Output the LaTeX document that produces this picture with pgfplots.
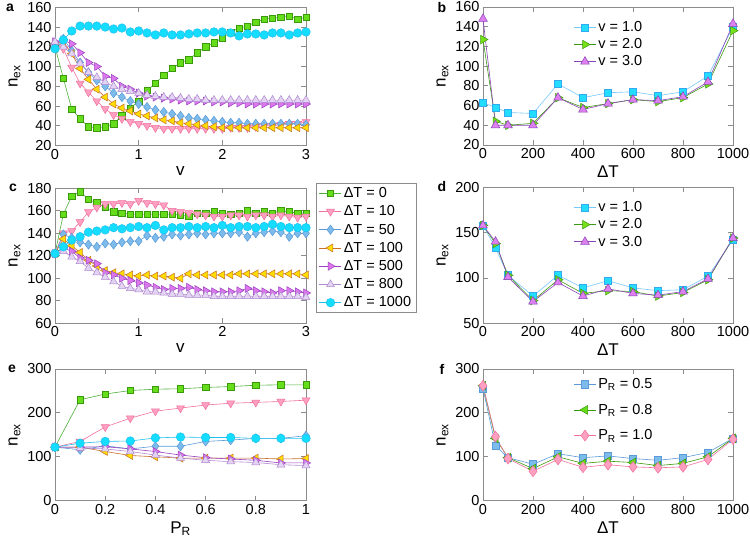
\documentclass[border=0pt]{standalone}
\usepackage{fontspec}
\setmainfont{Liberation Sans}
\usepackage{pgfplots}
\usepackage{pgfplotstable}
\pgfplotsset{compat=1.18}

\definecolor{gfill}{HTML}{66DD1A}\definecolor{gedge}{HTML}{3A9A0A}\definecolor{gline}{HTML}{4CAF3A}
\definecolor{pfill}{HTML}{FFA0C0}\definecolor{pedge}{HTML}{F070A0}
\definecolor{bfill}{HTML}{7DBBEB}\definecolor{bedge}{HTML}{5A9AD8}
\definecolor{yfill}{HTML}{FFDD00}\definecolor{yedge}{HTML}{C8702A}
\definecolor{mfill}{HTML}{DD77EE}\definecolor{medge}{HTML}{9A3FC0}
\definecolor{lfill}{HTML}{E2D4F2}\definecolor{ledge}{HTML}{B088D0}
\definecolor{cfill}{HTML}{14DDFF}\definecolor{cedge}{HTML}{20C0F0}
\definecolor{v1fill}{HTML}{22DDFF}\definecolor{v1edge}{HTML}{33AAEE}\definecolor{v1line}{HTML}{77C8FF}
\definecolor{v2fill}{HTML}{77E019}\definecolor{v2edge}{HTML}{3C9A10}
\definecolor{v3fill}{HTML}{DD80F0}\definecolor{v3edge}{HTML}{8B44B8}
\definecolor{axgray}{HTML}{8C8C8C}

\pgfplotstableread{
v g p b y m l c
0.0 120 122 122 118 125 125 118
0.1 88 118 128 125 127 120 127
0.2 57 99 116 113 123 113 136
0.3 47 83 104 98 114 103 141
0.4 39 74 94 87 104 94 141
0.5 38 65 86 77 100 89 141
0.6 39 57 80 69 90 84 140
0.7 42 51 73 62 88 80 138
0.8 50 47 69 58 80 77 139
0.9 58 44 65 55 77 75 135
1.0 65 42 62 52 73 73 136
1.1 76 40 59 50 70 71 134
1.2 83 38 56 48 69 70 132
1.3 91 37 54 46 68 69 134
1.4 98 37 52 45 67 69 132
1.5 104 37 50 43 66 68 132
1.6 107 37 48 42 65 67 133
1.7 114 37 47 41 65 67 134
1.8 120 37 46 40 65 66 134
1.9 124 37 45 39 64 66 135
2.0 129 37 44 38 64 66 135
2.1 135 38 43 38 63 66 134
2.2 139 38 43 38 63 66 131
2.3 141 38 42 38 62 66 133
2.4 145 39 42 38 62 66 133
2.5 148 40 42 38 62 66 132
2.6 149 40 42 38 62 66 134
2.7 150 41 42 38 62 66 134
2.8 151 42 42 38 62 66 132
2.9 148 42 42 38 62 66 134
3.0 150 44 41 38 62 66 135
}\tabA

\pgfplotstableread{
v g p b y m l c
0.0 122 122 122 122 122 122 122
0.1 157 140 139 135 127 124 128
0.2 173 142 136 129 124 119 134
0.3 177 150 132 123 118 115 137
0.4 170 159 130 116 116 109 141
0.5 167 163 128 111 113 105 142
0.6 163 166 131 107 105 101 143
0.7 159 166 130 105 103 97 145
0.8 158 167 132 104 100 93 144
0.9 157 166 133 103 98 91 145
1.0 157 169 133 102 96 90 146
1.1 157 167 138 103 94 88 145
1.2 157 166 136 102 92 88 147
1.3 157 165 137 102 90 87 143
1.4 157 160 139 101 91 86 145
1.5 156 159 138 100 91 86 145
1.6 155 158 139 104 92 85 146
1.7 158 157 140 103 90 85 145
1.8 158 156 139 103 89 85 146
1.9 159 155 140 103 88 84 145
2.0 158 155 140 103 88 84 147
2.1 157 156 140 103 88 84 145
2.2 158 156 141 104 89 84 146
2.3 160 155 137 104 91 84 146
2.4 158 156 140 104 89 84 145
2.5 159 156 141 104 88 84 146
2.6 158 155 142 104 87 84 148
2.7 160 156 141 104 89 84 146
2.8 159 155 137 104 89 84 145
2.9 158 154 140 104 88 84 145
3.0 158 155 140 103 87 83 145
}\tabC

\pgfplotstableread{
v g p b y m l c
0.0 122 122 122 122 122 122 122
0.1 230 135 116 122 122 120 131
0.2 243 168 125 112 123 118 135
0.3 251 188 118 103 118 112 136
0.4 254 204 124 100 112 104 143
0.5 255 211 124 97 104 97 145
0.6 258 218 135 97 98 92 144
0.7 260 222 138 97 95 89 144
0.8 263 224 142 97 92 87 142
0.9 264 226 142 95 86 82 142
1.0 264 229 148 96 86 80 142
}\tabE

\pgfplotstableread{
t v1 v2 v3
0 63 127 148
50 58 44 40
100 53 40 40
200 52 42 40
300 82 68 68
400 68 58 56
500 73 62 62
600 74 66 66
700 70 64 65
800 74 68 69
900 90 82 84
1000 140 136 143
}\tabB

\pgfplotstableread{
t v1 v2 v3
0 158 158 158
50 133 138 140
100 103 103 101
200 80 75 74
300 103 98 95
400 89 83 80
500 97 86 88
600 89 85 83
700 86 80 81
800 87 84 85
900 102 98 99
1000 142 144 144
}\tabD

\pgfplotstableread{
t a b c
0 255 262 262
50 125 142 146
100 98 98 96
200 83 73 67
300 107 100 94
400 98 85 76
500 102 90 82
600 96 87 77
700 92 80 75
800 98 85 77
900 110 100 94
1000 142 142 140
}\tabF

\pgfplotsset{
  panel/.style={scale only axis, clip=false,
    axis line style={axgray, line width=0.8pt},
    tick style={axgray, line width=0.8pt},
    tick align=inside, tick pos=both, major tick length=5pt,
    /pgf/number format/assume math mode=true,
    /pgf/number format/1000 sep={},
    tick label style={font=\fontsize{14.5}{16}\selectfont, black},
    label style={font=\fontsize{17}{19}\selectfont},
    ylabel={n\textsubscript{ex}},
    legend cell align=left,
    legend image code/.code={\draw[mark repeat=2,mark phase=2] plot coordinates {(0pt,0pt) (11pt,0pt) (22pt,0pt)};},
    every axis plot/.append style={line width=0.6pt},
  },
  sG/.style={color=gline, mark=square*, mark size=3.2pt, mark options={solid, fill=gfill, draw=gedge, line width=0.5pt}},
  sP/.style={color=pedge, mark=triangle*, mark size=4.6pt, mark options={solid, rotate=180, fill=pfill, draw=pedge, line width=0.5pt}},
  sB/.style={color=bedge, mark=diamond*, mark size=4.6pt, mark options={solid, fill=bfill, draw=bedge, line width=0.5pt}},
  sY/.style={color=yedge, mark=triangle*, mark size=4.6pt, mark options={solid, rotate=90, fill=yfill, draw=yedge, line width=0.5pt}},
  sM/.style={color=medge, mark=triangle*, mark size=4.6pt, mark options={solid, rotate=-90, fill=mfill, draw=medge, line width=0.5pt}},
  sL/.style={color=ledge, mark=triangle*, mark size=4.6pt, mark options={solid, fill=lfill, draw=ledge, line width=0.5pt}},
  sC/.style={color=cedge, mark=*, mark size=4.3pt, mark options={solid, fill=cfill, draw=cedge, line width=0.5pt}},
  sV1/.style={color=v1line, mark=square*, mark size=3.6pt, mark options={solid, fill=v1fill, draw=v1edge, line width=0.5pt}},
  sV2/.style={color=v2edge, mark=triangle*, mark size=5pt, mark options={solid, rotate=-90, fill=v2fill, draw=v2edge, line width=0.5pt}},
  sV3/.style={color=v3edge, mark=triangle*, mark size=5pt, mark options={solid, fill=v3fill, draw=v3edge, line width=0.5pt}},
  sF1/.style={color=bedge, mark=square*, mark size=3.6pt, mark options={solid, fill=bfill, draw=bedge, line width=0.5pt}},
  sF2/.style={color=gedge, mark=triangle*, mark size=5pt, mark options={solid, rotate=90, fill=gfill, draw=gedge, line width=0.5pt}},
  sF3/.style={color=pedge, mark=diamond*, mark size=5.4pt, mark options={solid, fill=pfill, draw=pedge, line width=0.5pt}},
}

\begin{document}
\begin{tikzpicture}[x=1pt,y=1pt]
\useasboundingbox (0,0) rectangle (750,541);

% ---- a ----
\begin{axis}[panel, at={(55pt,395.5pt)}, anchor=south west, width=251pt, height=138.2pt,
  xmin=0, xmax=3, ymin=20, ymax=160, xtick={0,1,2,3}, ytick={20,40,...,160}, xlabel={v}]
\addplot[sG] table[x=v,y=g]{\tabA};
\addplot[sP] table[x=v,y=p]{\tabA};
\addplot[sB] table[x=v,y=b]{\tabA};
\addplot[sY] table[x=v,y=y]{\tabA};
\addplot[sM] table[x=v,y=m]{\tabA};
\addplot[sL] table[x=v,y=l]{\tabA};
\addplot[sC] table[x=v,y=c]{\tabA};
\end{axis}

% ---- b ----
\begin{axis}[panel, at={(483pt,396pt)}, anchor=south west, width=250pt, height=138pt,
  xmin=0, xmax=1000, ymin=20, ymax=160, xtick={0,200,...,1000}, ytick={20,40,...,160}, xlabel={ΔT},
  legend style={at={(0.35,0.925)}, anchor=north west, draw=none, fill=none, font=\fontsize{14.5}{16}\selectfont, row sep=1.5pt}]
\addplot[sV1] table[x=t,y=v1]{\tabB}; \addlegendentry{v = 1.0}
\addplot[sV2] table[x=t,y=v2]{\tabB}; \addlegendentry{v = 2.0}
\addplot[sV3] table[x=t,y=v3]{\tabB}; \addlegendentry{v = 3.0}
\end{axis}

% ---- c ----
\begin{axis}[panel, at={(55pt,217.7pt)}, anchor=south west, width=251pt, height=135pt,
  xmin=0, xmax=3, ymin=60, ymax=180, xtick={0,1,2,3}, ytick={60,80,...,180}, xlabel={v},
  legend style={at={(1,1)}, anchor=north west, xshift=10pt, yshift=5pt, draw=axgray, font=\fontsize{14.5}{16}\selectfont, row sep=2.6pt}]
\addplot[sG] table[x=v,y=g]{\tabC}; \addlegendentry{ΔT = 0}
\addplot[sP] table[x=v,y=p]{\tabC}; \addlegendentry{ΔT = 10}
\addplot[sB] table[x=v,y=b]{\tabC}; \addlegendentry{ΔT = 50}
\addplot[sY] table[x=v,y=y]{\tabC}; \addlegendentry{ΔT = 100}
\addplot[sM] table[x=v,y=m]{\tabC}; \addlegendentry{ΔT = 500}
\addplot[sL] table[x=v,y=l]{\tabC}; \addlegendentry{ΔT = 800}
\addplot[sC] table[x=v,y=c]{\tabC}; \addlegendentry{ΔT = 1000}
\end{axis}

% ---- d ----
\begin{axis}[panel, at={(483pt,217.7pt)}, anchor=south west, width=250pt, height=136pt,
  xmin=0, xmax=1000, ymin=50, ymax=200, xtick={0,200,...,1000}, ytick={50,100,...,200}, xlabel={ΔT},
  legend style={at={(0.35,0.925)}, anchor=north west, draw=none, fill=none, font=\fontsize{14.5}{16}\selectfont, row sep=1.5pt}]
\addplot[sV1] table[x=t,y=v1]{\tabD}; \addlegendentry{v = 1.0}
\addplot[sV2] table[x=t,y=v2]{\tabD}; \addlegendentry{v = 2.0}
\addplot[sV3] table[x=t,y=v3]{\tabD}; \addlegendentry{v = 3.0}
\end{axis}

% ---- e ----
\begin{axis}[panel, at={(55pt,40.3pt)}, anchor=south west, width=251pt, height=131.7pt,
  xmin=0, xmax=1, ymin=0, ymax=300, xtick={0,0.2,...,1}, ytick={0,100,200,300}, xlabel={P\textsubscript{R}},
  every axis plot/.append style={every mark/.append style={scale=1.1}}]
\addplot[sG] table[x=v,y=g]{\tabE};
\addplot[sP] table[x=v,y=p]{\tabE};
\addplot[sB] table[x=v,y=b]{\tabE};
\addplot[sY] table[x=v,y=y]{\tabE};
\addplot[sM] table[x=v,y=m]{\tabE};
\addplot[sL] table[x=v,y=l]{\tabE};
\addplot[sC] table[x=v,y=c]{\tabE};
\end{axis}

% ---- f ----
\begin{axis}[panel, at={(483pt,40.3pt)}, anchor=south west, width=250pt, height=131.7pt,
  xmin=0, xmax=1000, ymin=0, ymax=300, xtick={0,200,...,1000}, ytick={0,100,200,300}, xlabel={ΔT},
  legend style={at={(0.35,0.96)}, anchor=north west, draw=none, fill=none, font=\fontsize{14.5}{16}\selectfont, row sep=10pt}]
\addplot[sF1] table[x=t,y=a]{\tabF}; \addlegendentry{P\textsubscript{R} = 0.5}
\addplot[sF2] table[x=t,y=b]{\tabF}; \addlegendentry{P\textsubscript{R} = 0.8}
\addplot[sF3] table[x=t,y=c]{\tabF}; \addlegendentry{P\textsubscript{R} = 1.0}
\end{axis}

\node[font=\fontsize{14}{16}\selectfont\bfseries] at (10,533) {a};
\node[font=\fontsize{14}{16}\selectfont\bfseries] at (442,533) {b};
\node[font=\fontsize{14}{16}\selectfont\bfseries] at (13,353) {c};
\node[font=\fontsize{14}{16}\selectfont\bfseries] at (442,354) {d};
\node[font=\fontsize{14}{16}\selectfont\bfseries] at (12,172) {e};
\node[font=\fontsize{14}{16}\selectfont\bfseries] at (442,172) {f};
\end{tikzpicture}
\end{document}
